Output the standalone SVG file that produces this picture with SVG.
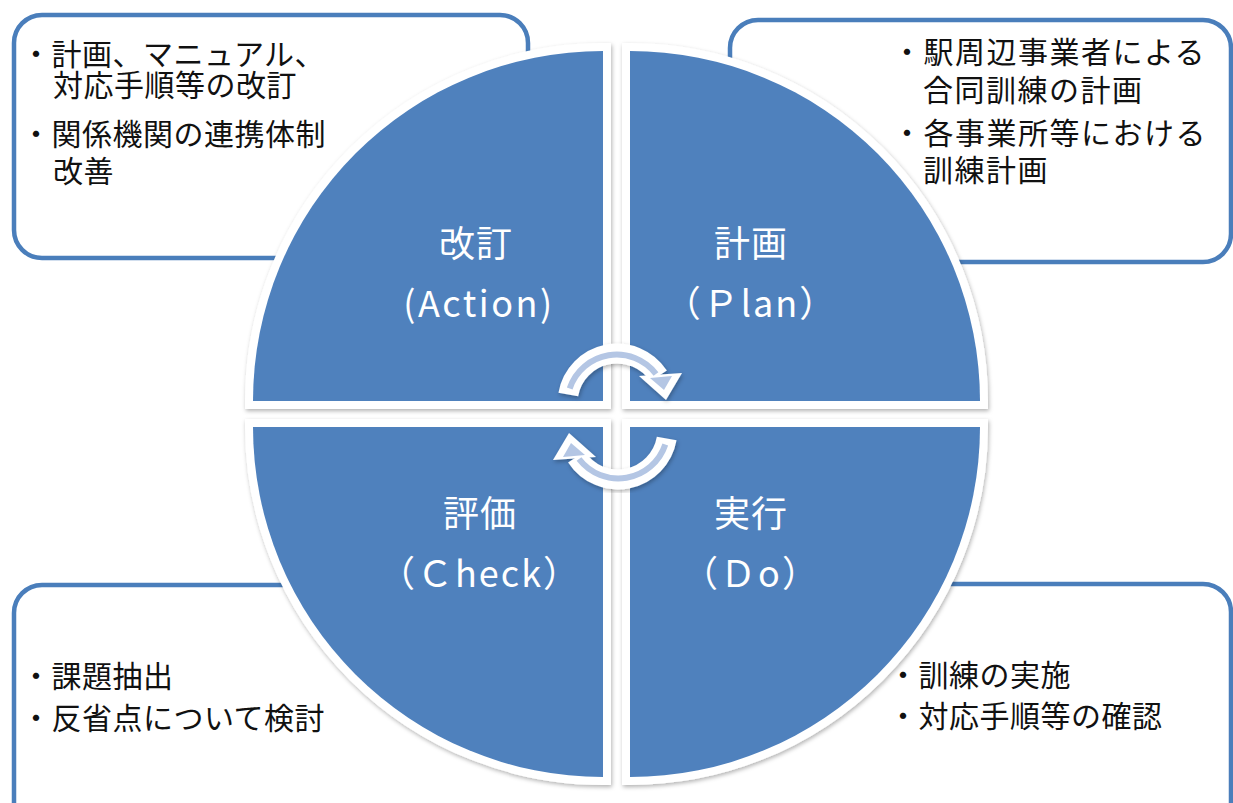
<svg xmlns="http://www.w3.org/2000/svg" xmlns:xlink="http://www.w3.org/1999/xlink" width="1233" height="803" viewBox="0 0 1233 803">
<defs>
<style>
.box { fill: #fff; stroke: #4A7EBB; stroke-width: 4.5; }
.boxfill { fill: #fff; stroke: none; }
.edge { fill: none; stroke: #4A7EBB; stroke-width: 4.5; }
.note { font-family: "Noto Sans CJK JP", "Noto Sans CJK SC", sans-serif; font-size: 30px; fill: #111; }
.quad { fill: #4F81BD; stroke: #fff; stroke-width: 16; paint-order: stroke; }
.label { font-family: "Noto Sans CJK JP", "Noto Sans CJK SC", sans-serif; font-size: 36px; fill: #fff; text-anchor: middle; }
.band { fill: none; stroke: #fff; stroke-width: 20; }
.stripe { fill: none; stroke: #B4C6E4; stroke-width: 6; }
</style>
<filter id="sh" x="-10%" y="-10%" width="120%" height="120%">
<feDropShadow dx="1" dy="2" stdDeviation="2" flood-color="#000" flood-opacity="0.3"/>
</filter>
</defs>
<rect width="1233" height="803" fill="#fff"/>

<g id="box-action">
<rect class="box" x="14" y="15" width="514" height="243" rx="28"/>
<text class="note" x="21" y="65" letter-spacing="0.5">・計画、マニュアル、</text>
<text class="note" x="53" y="96" letter-spacing="0.5">対応手順等の改訂</text>
<text class="note" x="21" y="145" letter-spacing="0.5">・関係機関の連携体制</text>
<text class="note" x="53" y="182" letter-spacing="0.5">改善</text>
</g>

<g id="box-plan">
<rect class="box" x="730" y="20" width="501" height="242" rx="28"/>
<text class="note" x="892" y="63" letter-spacing="1.5">・駅周辺事業者による</text>
<text class="note" x="923" y="101" letter-spacing="1.5">合同訓練の計画</text>
<text class="note" x="892" y="144" letter-spacing="1.5">・各事業所等における</text>
<text class="note" x="923" y="181" letter-spacing="1.5">訓練計画</text>
</g>

<g id="box-check">
<path class="boxfill" d="M14,840 V613 A28,28 0 0 1 42,585 H520 V840 Z"/>
<path class="edge" d="M14,840 V613 A28,28 0 0 1 42,585 H520"/>
<text class="note" x="21" y="687" letter-spacing="0.5">・課題抽出</text>
<text class="note" x="21" y="729" letter-spacing="0.5">・反省点について検討</text>
</g>

<g id="box-do">
<path class="boxfill" d="M720,584 H1203 A28,28 0 0 1 1231,612 V840 H720 Z"/>
<path class="edge" d="M720,584 H1203 A28,28 0 0 1 1231,612 V840"/>
<text class="note" x="888" y="686" letter-spacing="0.5">・訓練の実施</text>
<text class="note" x="888" y="727" letter-spacing="0.5">・対応手順等の確認</text>
</g>

<g id="node-action">
<path class="quad" filter="url(#sh)" d="M603,401 H253 A350,350 0 0 1 603,51 Z"/>
<text class="label" x="476" y="257" letter-spacing="1">改訂</text>
<text class="label" x="479" y="317" letter-spacing="2.5">(Action)</text>
</g>

<g id="node-plan">
<path class="quad" filter="url(#sh)" d="M630,401 V51 A350,350 0 0 1 980,401 Z"/>
<text class="label" x="751" y="257" letter-spacing="1">計画</text>
<text class="label" x="751" y="317" letter-spacing="2">（Ｐlan）</text>
</g>

<g id="node-do">
<path class="quad" filter="url(#sh)" d="M630,427 H980 A350,350 0 0 1 630,777 Z"/>
<text class="label" x="751" y="527" letter-spacing="1">実行</text>
<text class="label" x="751" y="587" letter-spacing="2">（Ｄo）</text>
</g>

<g id="node-check">
<path class="quad" filter="url(#sh)" d="M603,427 V777 A350,350 0 0 1 253,427 Z"/>
<text class="label" x="480" y="527" letter-spacing="1">評価</text>
<text class="label" x="480" y="587" letter-spacing="2">（Ｃheck）</text>
</g>

<g id="connectors" filter="url(#sh)">
<g id="arrow-top">
<path class="band" d="M568.3,394.4 A49.5,49.5 0 0 1 658.5,376"/>
<polygon points="639,376 682,373 666,400" fill="#fff"/>
<path class="stripe" d="M569.7,388.5 A49.5,49.5 0 0 1 656,374"/>
<polygon points="650,378 672,376 664,390" fill="#B4C6E4"/>
</g>
<use xlink:href="#arrow-top" href="#arrow-top" transform="rotate(180 617.5 416.5)"/>
</g>
</svg>
